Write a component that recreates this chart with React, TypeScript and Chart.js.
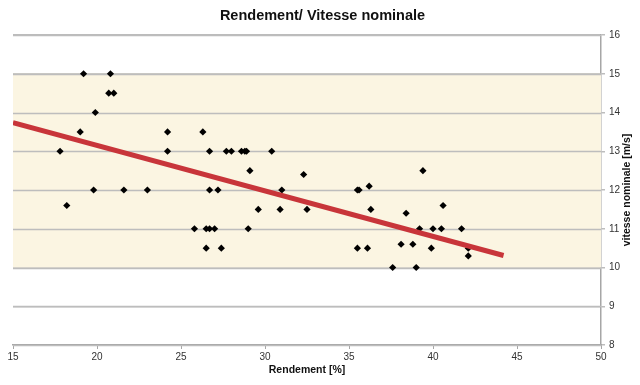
import React, { useEffect, useRef } from "react";
import { Chart, registerables } from "chart.js";

Chart.register(...registerables);

const efficiency: number[] = [
  19.2, 20.8, 20.7, 21.0, 19.9, 19.0, 24.2, 26.3, 17.8, 24.2, 26.7, 19.8, 21.6, 23.0,
  26.7, 27.2, 18.2, 27.7, 28.0, 28.6, 28.8, 28.9, 30.4, 29.1, 32.3, 31.0, 29.6, 30.9,
  32.5, 25.8, 26.5, 26.7, 27.0, 29.0, 26.5, 27.4, 39.4, 35.5, 35.6, 36.2, 36.3, 38.4,
  40.6, 39.2, 40.0, 40.5, 41.7, 35.5, 36.1, 38.1, 38.8, 39.9, 42.1, 42.1, 37.6, 39.0,
];
const speed: number[] = [
  15, 15, 14.5, 14.5, 14, 13.5, 13.5, 13.5, 13, 13, 13, 12, 12, 12,
  12, 12, 11.6, 13, 13, 13, 13, 13, 13, 12.5, 12.4, 12, 11.5, 11.5,
  11.5, 11, 11, 11, 11, 11, 10.5, 10.5, 12.5, 12, 12, 12.1, 11.5, 11.4,
  11.6, 11, 11, 11, 11, 10.5, 10.5, 10.6, 10.6, 10.5, 10.5, 10.3, 10, 10,
];
const trendX: number[] = [15, 44.2];
const trendY: number[] = [13.74, 10.31];
const xTicks: number[] = [15, 20, 25, 30, 35, 40, 45, 50];
const yTicks: number[] = [8, 9, 10, 11, 12, 13, 14, 15, 16];
const bandRange: number[] = [10, 15];

const titleText = "Rendement/ Vitesse nominale";
const xTitle = "Rendement [%]";
const yTitle = "vitesse nominale [m/s]";

const FONT = "'Liberation Sans', Arial, sans-serif";

export default function App() {
  const ref = useRef<HTMLCanvasElement | null>(null);

  useEffect(() => {
    const canvas = ref.current;
    if (!canvas) return;

    const bandPlugin = {
      id: "band",
      beforeDatasetsDraw(chart: any) {
        const { ctx, chartArea, scales } = chart;
        const y = scales.y;
        const top = y.getPixelForValue(bandRange[1]);
        const bottom = y.getPixelForValue(bandRange[0]);
        ctx.save();
        ctx.fillStyle = "#FBF5E2";
        ctx.fillRect(chartArea.left, top, chartArea.right - chartArea.left, bottom - top);
        ctx.strokeStyle = "#BDBDBD";
        ctx.lineWidth = 1.5;
        for (const v of yTicks) {
          const p = Math.round(y.getPixelForValue(v)) + 0.5;
          ctx.beginPath();
          ctx.moveTo(chartArea.left, p);
          ctx.lineTo(chartArea.right, p);
          ctx.stroke();
        }
        ctx.restore();
      },
      afterDraw(chart: any) {
        const { ctx, chartArea } = chart;
        ctx.save();
        ctx.fillStyle = "#111";
        ctx.font = `bold 10.5px ${FONT}`;
        ctx.textAlign = "center";
        ctx.textBaseline = "middle";
        ctx.translate(627, (chartArea.top + chartArea.bottom) / 2);
        ctx.rotate(-Math.PI / 2);
        ctx.fillText(yTitle, 0, 0);
        ctx.restore();
      },
    };

    const chart = new Chart(canvas, {
      type: "scatter",
      data: {
        datasets: [
          {
            type: "line",
            label: "trend",
            data: trendX.map((x, i) => ({ x, y: trendY[i] })),
            borderColor: "#C8353A",
            borderWidth: 5,
            pointRadius: 0,
            fill: false,
            order: 0,
          } as any,
          {
            label: "points",
            data: efficiency.map((x, i) => ({ x, y: speed[i] })),
            pointStyle: "rectRot",
            pointRadius: 3.6,
            backgroundColor: "#000",
            borderColor: "#000",
            borderWidth: 0,
            order: 1,
          },
        ],
      },
      options: {
        animation: false,
        responsive: false,
        events: [],
        layout: { padding: { left: 13, right: 8, top: 0, bottom: 9 } },
        plugins: {
          legend: { display: false },
          tooltip: { enabled: false },
          title: {
            display: true,
            text: titleText,
            color: "#111",
            font: { family: FONT, size: 14.5, weight: "bold" },
            padding: { top: 7, bottom: 10.6 },
          },
        },
        scales: {
          x: {
            type: "linear",
            position: "bottom",
            min: 15,
            max: 50,
            afterBuildTicks: (s: any) => {
              s.ticks = xTicks.map((v) => ({ value: v }));
            },
            afterFit: (s: any) => {
              s.height = 31;
            },
            grid: {
              drawOnChartArea: false,
              drawTicks: true,
              tickLength: 4,
              color: "#A6A6A6",
            },
            border: { display: true, color: "#A6A6A6", width: 1.5 },
            ticks: {
              color: "#333",
              font: { family: FONT, size: 10 },
              padding: 2,
              maxRotation: 0,
            },
            title: {
              display: true,
              text: xTitle,
              color: "#111",
              font: { family: FONT, size: 10.5, weight: "bold" },
              padding: { top: 1, bottom: 0 },
            },
          },
          y: {
            type: "linear",
            position: "right",
            min: 8,
            max: 16,
            afterBuildTicks: (s: any) => {
              s.ticks = yTicks.map((v) => ({ value: v }));
            },
            afterFit: (s: any) => {
              s.width = 31;
            },
            grid: {
              drawOnChartArea: true,
              drawTicks: true,
              tickLength: 4,
              color: "#BDBDBD",
              lineWidth: 1.5,
            },
            border: { display: true, color: "#A6A6A6", width: 1.5 },
            ticks: {
              color: "#333",
              font: { family: FONT, size: 10 },
              padding: 4,
            },
          },
        },
      },
      plugins: [bandPlugin],
    } as any);

    return () => chart.destroy();
  }, []);

  return (
    <div style={{ position: "fixed", left: 0, top: 0, width: 640, height: 385, background: "#fff" }}>
      <canvas ref={ref} width={640} height={385} style={{ width: 640, height: 385, display: "block" }} />
    </div>
  );
}
